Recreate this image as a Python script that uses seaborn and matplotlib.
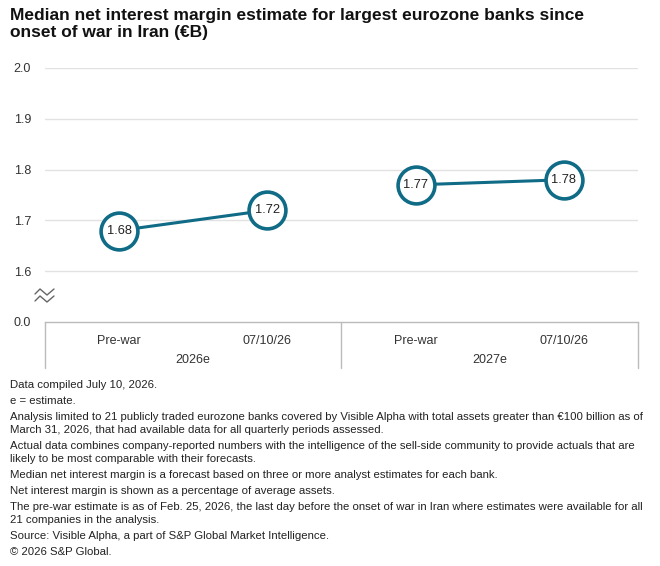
import matplotlib
matplotlib.use("Agg")
import matplotlib.pyplot as plt
import matplotlib.transforms as mtransforms
import seaborn as sns
import pandas as pd

# ---- data ----
years = ["2026e", "2026e", "2027e", "2027e"]
periods = ["Pre-war", "07/10/26", "Pre-war", "07/10/26"]
values = [1.68, 1.72, 1.77, 1.78]
ytick_values = [1.5, 1.6, 1.7, 1.8, 1.9, 2.0]
ytick_labels = ["0.0", "1.6", "1.7", "1.8", "1.9", "2.0"]

title = "Median net interest margin estimate for largest eurozone banks since\nonset of war in Iran (\u20acB)"
notes = [
    ["Data compiled July 10, 2026."],
    ["e = estimate."],
    ["Analysis limited to 21 publicly traded eurozone banks covered by Visible Alpha with total assets greater than \u20ac100 billion as of",
     "March 31, 2026, that had available data for all quarterly periods assessed."],
    ["Actual data combines company-reported numbers with the intelligence of the sell-side community to provide actuals that are",
     "likely to be most comparable with their forecasts."],
    ["Median net interest margin is a forecast based on three or more analyst estimates for each bank."],
    ["Net interest margin is shown as a percentage of average assets."],
    ["The pre-war estimate is as of Feb. 25, 2026, the last day before the onset of war in Iran where estimates were available for all",
     "21 companies in the analysis."],
    ["Source: Visible Alpha, a part of S&P Global Market Intelligence."],
    ["\u00a9 2026 S&P Global."],
]

df = pd.DataFrame({"year": years, "period": periods, "value": values})
df["pos"] = range(len(df))

W, H = 660, 566
TEAL = "#0f6b86"
sns.set_theme(style="white")
plt.rcParams["font.family"] = ["Liberation Sans", "DejaVu Sans"]

fig = plt.figure(figsize=(W / 100, H / 100), dpi=100)
left, right, top, bottom = 45, 638, 68, 322
ax = fig.add_axes([left / W, 1 - bottom / H, (right - left) / W, (bottom - top) / H])

sns.lineplot(data=df, x="pos", y="value", hue="year", palette=[TEAL, TEAL],
             legend=False, ax=ax, linewidth=2.2, marker="o", markersize=26.5,
             markerfacecolor="white", markeredgecolor=TEAL, markeredgewidth=2.6)

for _, r in df.iterrows():
    ax.text(r["pos"], r["value"], f"{r['value']:.2f}", ha="center", va="center",
            fontsize=9.3, color="#222222", zorder=10)

ax.set_xlim(-0.5, len(df) - 0.5)
ax.set_ylim(1.5, 2.0)
ax.set_yticks(ytick_values)
ax.set_yticklabels(ytick_labels)
ax.set_xticks(df["pos"])
ax.set_xticklabels(df["period"])
ax.set_xlabel("")
ax.set_ylabel("")
ax.tick_params(axis="y", length=0, pad=10, labelsize=9, labelcolor="#333333")
ax.tick_params(axis="x", length=0, pad=9, labelsize=9, labelcolor="#333333")
for y in ytick_values[1:]:
    ax.axhline(y, color="#e2e2e2", lw=1, zorder=0)
for s in ["top", "right", "left"]:
    ax.spines[s].set_visible(False)
ax.spines["bottom"].set_color("#bbbbbb")
ax.spines["bottom"].set_linewidth(1)

# category group box
box_h = 46 / (bottom - top)
trans = mtransforms.blended_transform_factory(ax.transData, ax.transAxes)
for xb in [-0.5, 1.5, 3.5]:
    ax.plot([xb, xb], [0, -box_h], transform=trans, color="#bbbbbb", lw=1, clip_on=False)
for yr in dict.fromkeys(years):
    xs = df.loc[df["year"] == yr, "pos"]
    ax.text(xs.mean(), -38 / (bottom - top), yr, transform=trans, ha="center", va="center",
            fontsize=9, color="#333333")

# axis break symbol (pixel coordinates)
def px(x, y):
    return (x / W, 1 - y / H)
for dy in (0, 7):
    pts = [px(35, 294 + dy), px(40, 289 + dy), px(47, 295 + dy), px(54, 289 + dy)]
    fig.add_artist(plt.Line2D([p[0] for p in pts], [p[1] for p in pts],
                              transform=fig.transFigure, color="#666666", lw=1))

# title
fig.text(10 / W, 1 - 8 / H, title, ha="left", va="top", fontsize=12.5,
         fontweight="bold", color="#111111", linespacing=1.15)

# notes
y = 385
for para in notes:
    for i, line in enumerate(para):
        fig.text(10 / W, 1 - y / H, line, ha="left", va="center", fontsize=8.2, color="#222222")
        y += 13.5 if i < len(para) - 1 else 0
    y += 15.8

fig.savefig("out.png", dpi=100)
